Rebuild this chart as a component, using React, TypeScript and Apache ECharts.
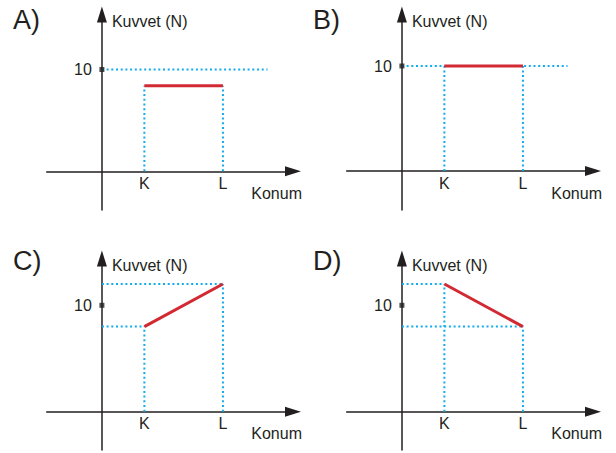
import React, { useEffect, useRef } from "react";
import * as echarts from "echarts";

// ---- data ----
const panelLetters = ["A)", "B)", "C)", "D)"];
const kPos = 4;
const lPos = 11.4;
const refEnd = 15.6;
const refForce = 10;
const forceAtK = [8.4, 10, 8, 12];
const forceAtL = [8.4, 10, 12, 8];
const showRefLine = [true, true, false, false];
const xTickValues = [kPos, lPos];
const xTickLabels = ["K", "L"];
const yTickValues = [10];
const yAxisName = "Kuvvet (N)";
const xAxisName = "Konum";

// ---- layout / style ----
const FONT = "Liberation Sans, Arial, sans-serif";
const AXIS_COLOR = "#231f20";
const BLUE = "#12abeb";
const RED = "#d22a32";
const layout = [
  { left: 46.7, top: 14.5, width: 246.3, height: 195.5, yMin: -3.8, yMax: 15.4, lx: 13, ly: 20 },
  { left: 346.7, top: 14.5, width: 246.3, height: 195.5, yMin: -3.7, yMax: 14.9, lx: 313, ly: 20 },
  { left: 46.7, top: 258.5, width: 246.3, height: 191.5, yMin: -3.6, yMax: 14.4, lx: 13, ly: 261 },
  { left: 346.7, top: 258.5, width: 246.3, height: 191.5, yMin: -3.6, yMax: 14.4, lx: 313, ly: 261 },
];
const X_MIN = -5.2;
const X_MAX = 18;

function dotted(i: number, data: number[][]) {
  return {
    type: "line",
    xAxisIndex: i,
    yAxisIndex: i,
    data,
    symbol: "none",
    silent: true,
    z: 2,
    lineStyle: { color: BLUE, width: 2, type: [2, 2.7], cap: "butt" },
  };
}

export default function App() {
  const ref = useRef<HTMLDivElement>(null);
  useEffect(() => {
    if (!ref.current) return;
    const chart = echarts.init(ref.current, null, { renderer: "svg" });
    const axisLine = {
      onZero: false,
      symbol: ["none", "triangle"],
      symbolSize: [10, 16],
      lineStyle: { color: AXIS_COLOR, width: 1.5 },
    };
    const grid = layout.map((l) => ({ left: l.left, top: l.top, width: l.width, height: l.height }));
    const xAxis = layout.map((l, i) => ({
      type: "value",
      gridIndex: i,
      position: "bottom",
      offset: -(l.height * (0 - l.yMin)) / (l.yMax - l.yMin),
      min: X_MIN,
      max: X_MAX,
      axisLine,
      axisTick: { show: false },
      splitLine: { show: false },
      axisLabel: {
        customValues: xTickValues,
        formatter: (v: number) => {
          let best = 0;
          xTickValues.forEach((t, j) => {
            if (Math.abs(t - v) < Math.abs(xTickValues[best] - v)) best = j;
          });
          return xTickLabels[best];
        },
        fontSize: 16,
        color: AXIS_COLOR,
        fontFamily: FONT,
        margin: 4,
      },
      name: xAxisName,
      nameLocation: "end",
      nameGap: 9,
      nameTextStyle: {
        align: "right",
        verticalAlign: "top",
        padding: [14, 0, 0, 0],
        fontSize: 16,
        color: AXIS_COLOR,
        fontFamily: FONT,
      },
    }));
    const yAxis = layout.map((l, i) => ({
      type: "value",
      gridIndex: i,
      position: "left",
      offset: -(l.width * (0 - X_MIN)) / (X_MAX - X_MIN),
      min: l.yMin,
      max: l.yMax,
      axisLine,
      axisTick: { show: false },
      splitLine: { show: false },
      axisLabel: {
        customValues: yTickValues,
        fontSize: 16,
        color: AXIS_COLOR,
        fontFamily: FONT,
        margin: 10,
      },
      name: yAxisName,
      nameLocation: "end",
      nameGap: -7,
      nameTextStyle: {
        align: "left",
        verticalAlign: "middle",
        padding: [0, 0, 0, 10],
        fontSize: 16,
        color: AXIS_COLOR,
        fontFamily: FONT,
      },
    }));
    const series: any[] = [];
    layout.forEach((_, i) => {
      const fK = forceAtK[i];
      const fL = forceAtL[i];
      if (showRefLine[i]) {
        series.push(dotted(i, [[0, refForce], [refEnd, refForce]]));
      } else {
        series.push(dotted(i, [[0, fK], [kPos, fK]]));
        series.push(dotted(i, [[0, fL], [lPos, fL]]));
      }
      series.push(dotted(i, [[kPos, 0], [kPos, fK]]));
      series.push(dotted(i, [[lPos, 0], [lPos, fL]]));
      series.push({
        type: "line",
        xAxisIndex: i,
        yAxisIndex: i,
        data: [[kPos, fK], [lPos, fL]],
        symbol: "none",
        silent: true,
        z: 3,
        lineStyle: { color: RED, width: 3, cap: "butt" },
      });
      series.push({
        type: "scatter",
        xAxisIndex: i,
        yAxisIndex: i,
        data: yTickValues.map((v) => [0, v]),
        symbol: "rect",
        symbolSize: 5,
        silent: true,
        z: 4,
        itemStyle: { color: AXIS_COLOR },
      });
    });
    const graphic = layout.map((l, i) => ({
      type: "text",
      x: l.lx,
      y: l.ly,
      silent: true,
      style: {
        text: panelLetters[i],
        fontSize: 27,
        fontFamily: FONT,
        fill: AXIS_COLOR,
        textVerticalAlign: "middle",
        verticalAlign: "middle",
      },
    }));
    chart.setOption({
      animation: false,
      backgroundColor: "#ffffff",
      grid,
      xAxis,
      yAxis,
      series,
      graphic,
    });
    return () => chart.dispose();
  }, []);
  return (
    <div
      ref={ref}
      style={{ position: "fixed", left: 0, top: 0, width: 616, height: 453, background: "#fff" }}
    />
  );
}
